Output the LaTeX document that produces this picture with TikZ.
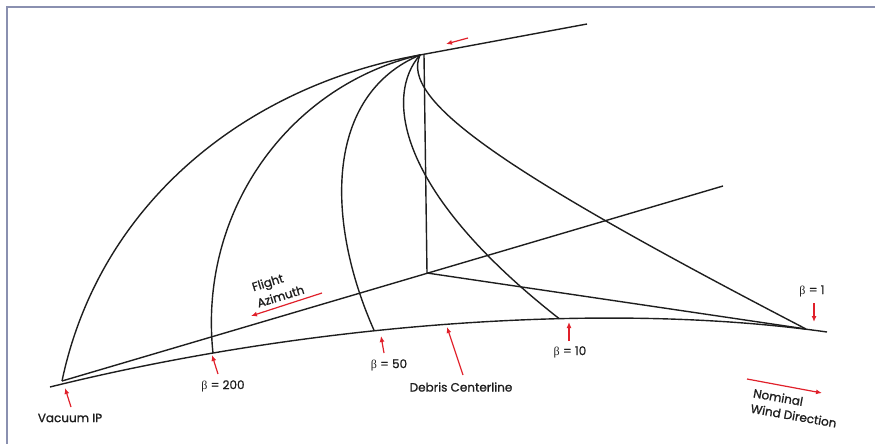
\documentclass[tikz,border=0pt]{standalone}
\usepackage{fontspec}
\setmainfont{Poppins}[FakeBold=1.1]
\newfontfamily\greekfont{Liberation Serif}
\usetikzlibrary{arrows.meta}
\definecolor{framecol}{HTML}{8A90B0}
\definecolor{arrred}{HTML}{E0202A}
\definecolor{inkcol}{HTML}{1E1E1E}
\begin{document}
\begin{tikzpicture}[x=1pt,y=-1pt,
  curve/.style={draw=inkcol,line width=1.4pt},
  redarrow/.style={draw=arrred,line width=1.2pt,-{Latex[length=6pt,width=5pt]}},
  lbl/.style={inner sep=0pt,font=\fontsize{12}{14.5}\selectfont,text=inkcol},
  beta/.style={lbl}]
\useasboundingbox (0,0) rectangle (875,444);
\draw[framecol,line width=1.6pt] (7,444) -- (7,7) -- (875,7);

% key points
\coordinate (apex) at (420,55);
\coordinate (topend) at (587,24);
\coordinate (vip) at (62,381);
\coordinate (azend) at (723,186);
\coordinate (hub) at (427,273);
\coordinate (vtop) at (424,55);
\coordinate (rconv) at (806,329);

% debris centerline
\draw[curve] (50,387) .. controls (300,325) and (600,300) .. (827,332)
  coordinate[pos=0.21] (b200)
  coordinate[pos=0.41] (b50)
  coordinate[pos=0.495] (dcl)
  coordinate[pos=0.64] (b10);

% straight lines
\draw[curve] (apex) -- (topend);
\draw[curve] (vip) -- (azend);
\draw[curve] (vtop) -- (hub);
\draw[curve] (hub) -- (rconv);

% debris curves
\draw[curve] (vip) .. controls (100,200) and (250,85) .. (apex);
\draw[curve] (b200) .. controls (198,210) and (290,85) .. (apex);
\draw[curve] (b50) .. controls (325,220) and (325,95) .. (apex);
\draw[curve] (apex) .. controls (385,95) and (395,190) .. (b10);
\draw[curve] (apex) .. controls (400,100) and (500,170) .. (rconv);

% labels
\node[lbl] (lvip) at (70,418) {Vacuum IP};
\node[beta] (l200) at (223,386) {{\greekfont β} = 200};
\node[beta] (l50) at (389,365) {{\greekfont β} = 50};
\node[lbl] (ldcl) at (461,387) {Debris Centerline};
\node[beta] (l10) at (570,352) {{\greekfont β} = 10};
\node[beta] (l1) at (812,291) {{\greekfont β} = 1};
\node[lbl,font=\fontsize{12}{17}\selectfont,align=left,rotate=17] (lfa) at (278,288) {Flight\\Azimuth};
\node[lbl,font=\fontsize{12}{15.5}\selectfont,align=left,rotate=-10] (lwind) at (795,408) {Nominal\\Wind Direction};

% red arrows
\coordinate (ta1) at (468,38); \coordinate (ta2) at (446,44);
\draw[redarrow] (ta1) -- (ta2);
\coordinate (fa1) at (322,293); \coordinate (fa2) at (251,316);
\draw[redarrow] (fa1) -- (fa2);
\coordinate (wa1) at (747,379); \coordinate (wa2) at (822,393);
\draw[redarrow] (wa1) -- (wa2);
\coordinate (va1) at (71,407); \coordinate (va2) at (65,388);
\draw[redarrow] (va1) -- (va2);
\coordinate (a200) at (218,374); \coordinate (t200) at (212,355);
\draw[redarrow] (a200) -- (t200);
\coordinate (a50) at (384,353); \coordinate (t50) at (381,336);
\draw[redarrow] (a50) -- (t50);
\coordinate (adcl) at (463,375); \coordinate (tdcl) at (447,327);
\draw[redarrow] (adcl) -- (tdcl);
\coordinate (a10) at (569,341); \coordinate (t10) at (569,322);
\draw[redarrow] (a10) -- (t10);
\coordinate (a1) at (814,303); \coordinate (t1) at (814,322);
\draw[redarrow] (a1) -- (t1);
\end{tikzpicture}
\end{document}
